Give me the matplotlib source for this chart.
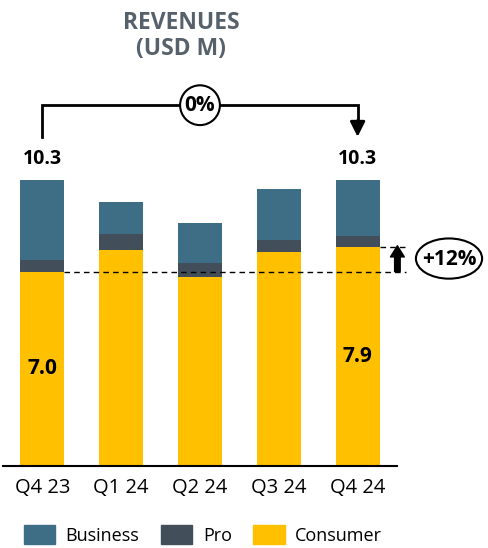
import numpy as np
import matplotlib.pyplot as plt
from matplotlib.patches import Patch, Ellipse

# data (USD M)
quarters = ["Q4 23", "Q1 24", "Q2 24", "Q3 24", "Q4 24"]
consumer = [7.0, 7.78, 6.80, 7.72, 7.88]
pro = [0.43, 0.58, 0.52, 0.42, 0.42]
business = [2.87, 1.15, 1.42, 1.83, 2.01]
total_labels = ["10.3", "", "", "", "10.3"]
consumer_labels = ["7.0", "", "", "", "7.9"]
change_total = "0%"
change_consumer = "+12%"

c_business = "#3d6e86"
c_pro = "#424f5a"
c_consumer = "#ffc000"
c_title = "#56616b"

plt.rcParams['font.family'] = ['Open Sans', 'DejaVu Sans']

fig = plt.figure(figsize=(4.88, 5.48), dpi=100)
ax = fig.add_axes([3/488, (548-465.7)/548, 394/488, 14*27.73/548])

x = np.arange(len(quarters))
cons = np.array(consumer)
pr = np.array(pro)
bus = np.array(business)
w = 0.558

ax.bar(x, cons, w, color=c_consumer, label="Consumer")
ax.bar(x, pr, w, bottom=cons, color=c_pro, label="Pro")
ax.bar(x, bus, w, bottom=cons + pr, color=c_business, label="Business")
tops = cons + pr + bus

ax.set_xlim(-0.5, 4.5)
ax.set_ylim(0, 14)
ax.set_yticks([])
ax.set_xticks(x)
ax.set_xticklabels(quarters, fontsize=14.5)
ax.tick_params(axis='x', length=0, pad=9)
for s in ['top', 'right', 'left']:
    ax.spines[s].set_visible(False)
ax.spines['bottom'].set_linewidth(1.5)

# value labels
for i in range(len(quarters)):
    if total_labels[i]:
        ax.text(x[i], tops[i] + 0.4, total_labels[i], ha='center', va='bottom',
                fontsize=14, fontweight='bold')
    if consumer_labels[i]:
        ax.text(x[i], cons[i] / 2, consumer_labels[i], ha='center', va='center',
                fontsize=15, fontweight='bold')

# bracket between first and last bar
yb = 13.0
ax.plot([x[0], x[0], x[-1], x[-1]], [11.86, yb, yb, 12.4], color='black', lw=2,
        clip_on=False, solid_joinstyle='miter')
ax.annotate("", xy=(x[-1], 11.86), xytext=(x[-1], 12.45),
            arrowprops=dict(arrowstyle='-|>,head_length=0.9,head_width=0.45',
                            color='black', lw=2, shrinkA=0, shrinkB=0),
            annotation_clip=False)
ax.text((x[0] + x[-1]) / 2, yb, change_total, ha='center', va='center',
        fontsize=15, fontweight='bold',
        bbox=dict(boxstyle='circle,pad=0.22', fc='white', ec='black', lw=1.5))

# consumer growth marker
xr = 4.61
ax.plot([x[0] + w / 2, xr], [cons[0], cons[0]], color='black', lw=1, ls=(0, (4, 3)),
        clip_on=False)
ax.plot([x[-1] + w / 2, xr], [cons[-1], cons[-1]], color='black', lw=1, ls=(0, (4, 3)),
        clip_on=False)
ax.annotate("", xy=(4.505, cons[-1] + 0.05), xytext=(4.505, cons[0]),
            arrowprops=dict(arrowstyle='simple,head_length=0.8,head_width=1.0,tail_width=0.4',
                            color='black', shrinkA=0, shrinkB=0),
            annotation_clip=False)
ax.add_patch(Ellipse((5.16, (cons[0] + cons[-1]) / 2 + 0.03), 0.84, 1.45, fc='white',
                     ec='black', lw=1.5, clip_on=False))
ax.text(5.16, (cons[0] + cons[-1]) / 2, change_consumer, ha='center', va='center',
        fontsize=15, fontweight='bold')

# title
fig.text(181/488, 1 - 23/548, "REVENUES", ha='center', va='center', fontsize=16.5,
         fontweight='bold', color=c_title)
fig.text(181/488, 1 - 49/548, "(USD M)", ha='center', va='center', fontsize=16.5,
         fontweight='bold', color=c_title)

handles = [Patch(color=c_business, label="Business"),
           Patch(color=c_pro, label="Pro"),
           Patch(color=c_consumer, label="Consumer")]
fig.legend(handles=handles, loc='center', bbox_to_anchor=(203/488, 1 - 535/548), ncol=3,
           frameon=False, fontsize=13, handlelength=1.72, handleheight=1.26,
           handletextpad=0.6, columnspacing=1.2, borderpad=0, borderaxespad=0)

fig.savefig("out.png", dpi=100)
